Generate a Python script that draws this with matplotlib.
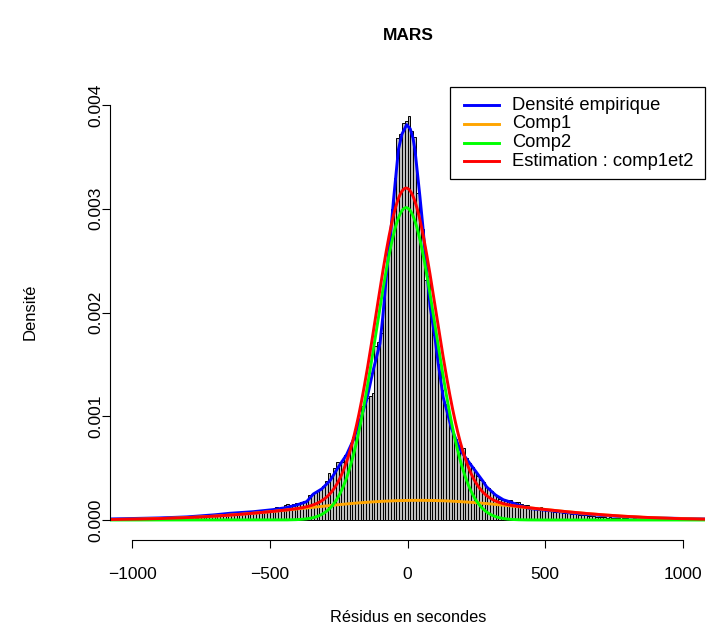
import numpy as np
import matplotlib
matplotlib.use("Agg")
import matplotlib.pyplot as plt
from matplotlib.lines import Line2D
from matplotlib.patches import Rectangle

plt.rcParams['font.family'] = ['Liberation Sans', 'DejaVu Sans']
plt.rcParams['axes.unicode_minus'] = False

# ---------------- data ----------------
title = "MARS"
xlabel = "Résidus en secondes"
ylabel = "Densité"
legend_labels = ["Densité empirique", "Comp1", "Comp2", "Estimation : comp1et2"]
line_colors = ["#0000FF", "#FFA500", "#00FF00", "#FF0000"]
xticks = [-1000, -500, 0, 500, 1000]
xtick_labels = ["\u22121000", "\u2212500", "0", "500", "1000"]
yticks = [0.000, 0.001, 0.002, 0.003, 0.004]
ytick_labels = ["0.000", "0.001", "0.002", "0.003", "0.004"]

# histogram (bin width 10, first edge -1080), densities in units of 1e-5
bin_start = -1080
bin_width = 10
hist_e5 = (
    [0, 0, 1, 0, 0, 1, 0, 0, 1, 1, 0, 1, 0, 1, 1, 0, 1, 1, 2, 1,
     1, 2, 1, 2, 2, 1, 2, 3, 2, 2, 3, 2, 3, 3, 4, 3, 4, 4]                  # -1075..-705
    + [4, 4, 4, 5, 5, 5, 6, 5, 6, 6, 6, 7, 7, 7, 8, 8, 8, 9, 9, 9]           # -695..-505
    + [10, 10, 13, 12, 12, 14, 15, 14, 15, 16, 16, 17, 18, 19, 24, 25, 27, 29, 30, 33]  # -495..-305
    + [38, 45, 42, 50, 56, 55, 56, 63, 66, 74, 80, 92, 95, 110, 112, 118, 120]          # -295..-135
    + [122, 168, 172, 180, 210, 240, 270, 300]                               # -125..-55
    + [330, 368, 372, 383, 385, 389, 375, 369, 315, 300]                     # -45..45
    + [280, 231, 235, 200, 178, 170, 150, 125]                               # 55..125
    + [112, 103, 92, 85, 78, 72, 68, 69, 60, 55, 51, 46, 42, 39, 37, 33, 31] # 135..295
    + [28, 25, 22, 20, 19, 18, 19, 19, 16, 17, 17, 15, 14, 14, 12, 11, 11, 12, 13, 10]  # 305..495
    + [10, 9, 9, 8, 8, 8, 7, 7, 7, 6, 8, 7, 5, 5, 5, 4, 4, 4, 3, 3]          # 505..695
    + [3, 3, 2, 3, 2, 2, 2, 1, 2, 2, 1, 1, 2, 1, 1, 0, 1, 1, 0, 1,
       1, 0, 0, 1, 0, 1, 0, 0, 1, 0, 0, 0, 1, 0, 0, 0, 0, 0]                 # 705..1075
)

emp_x = [-1080, -900, -800, -700, -644, -560, -488, -440, -402, -366, -342, -311,
         -281, -251, -221, -197, -172, -148, -124, -100, -90, -75, -60, -51, -33,
         -20, -3, 10, 20, 27, 45, 55, 70, 82, 100, 112, 130, 160, 191, 203, 239,
         275, 287, 320, 348, 372, 396, 445, 517, 600, 699, 800, 900, 1080]
emp_e5 = [1, 2, 3, 5, 6.5, 8, 10, 12, 14.5, 17.7, 25, 30,
          38, 51, 63, 77, 96, 116, 145, 170, 195, 240, 280, 308, 357,
          372, 381, 377, 368, 357, 312, 285, 240, 206, 175, 150, 118, 88, 68, 63, 50,
          37, 32, 24, 19.5, 17.5, 15, 11, 9, 6.5, 4.5, 3, 2, 1]

# fitted two-component normal mixture
comp_weights = [0.195, 0.815]
comp_means = [40, -5]
comp_sds = [410, 108]

# ---------------- figure ----------------
W, H = 708, 630
fig = plt.figure(figsize=(W / 100, H / 100), dpi=100)

def fx(px):
    return px / W

def fy(py):
    return 1 - py / H

# axes placement in pixels
ax_left, ax_right = 110, 705
ax_top, ax_bottom = 88, 540
y0_px, y4_px = 520, 105
xl, xr = -1080, 1080
scale = (y0_px - y4_px) / 0.004
ylim_lo = -(ax_bottom - y0_px) / scale
ylim_hi = 0.004 + (y4_px - ax_top) / scale

ax = fig.add_axes([fx(ax_left), fy(ax_bottom), fx(ax_right - ax_left), (ax_bottom - ax_top) / H])
ax.set_xlim(xl, xr)
ax.set_ylim(ylim_lo, ylim_hi)

centers = bin_start + bin_width / 2 + bin_width * np.arange(len(hist_e5))
heights = np.array(hist_e5) * 1e-5
ax.bar(centers, heights, width=bin_width, color="#BEBEBE", edgecolor="black", linewidth=0.7)

xs = np.linspace(xl, xr, 1500)
def npdf(x, m, s):
    return np.exp(-0.5 * ((x - m) / s) ** 2) / (s * np.sqrt(2 * np.pi))
c1 = comp_weights[0] * npdf(xs, comp_means[0], comp_sds[0])
c2 = comp_weights[1] * npdf(xs, comp_means[1], comp_sds[1])

lw = 2.1
ax.plot(emp_x, np.array(emp_e5) * 1e-5, color=line_colors[0], lw=lw, solid_joinstyle='round')
ax.plot(xs, c1, color=line_colors[1], lw=lw)
ax.plot(xs, c2, color=line_colors[2], lw=lw)
ax.plot(xs, c1 + c2, color=line_colors[3], lw=lw)

for s in ["top", "right"]:
    ax.spines[s].set_visible(False)
ax.spines["left"].set_bounds(0, 0.004)
ax.spines["bottom"].set_bounds(-1000, 1000)
for s in ["left", "bottom"]:
    ax.spines[s].set_linewidth(0.8)

ax.set_xticks(xticks)
ax.set_xticklabels(xtick_labels)
ax.set_yticks(yticks)
ax.set_yticklabels(ytick_labels, rotation=90, va="center")
ax.tick_params(axis="both", length=5.5, width=0.8, labelsize=12.5, direction="out")
ax.tick_params(axis="x", pad=14)
ax.tick_params(axis="y", pad=-1)

fig.text(fx(408), fy(35), title, ha="center", va="center", fontsize=12.5, fontweight="bold")
fig.text(fx(408), fy(618), xlabel, ha="center", va="center", fontsize=11.8)
fig.text(fx(30), fy(312), ylabel, ha="center", va="center", rotation=90, fontsize=12)

# legend drawn by hand (box, line keys, labels) in pixel positions
box_l, box_r, box_t, box_b = 450, 705, 87, 179
row_y = [105, 124, 142.5, 161]
key_x0, key_x1, text_x = 464, 499, 512
fig.add_artist(Rectangle((fx(box_l), fy(box_b)), fx(box_r - box_l), (box_b - box_t) / H,
                         transform=fig.transFigure, facecolor="white",
                         edgecolor="black", linewidth=0.9, zorder=5))
for lab, col, ry in zip(legend_labels, line_colors, row_y):
    fig.add_artist(Line2D([fx(key_x0), fx(key_x1)], [fy(ry), fy(ry)],
                          transform=fig.transFigure, color=col, lw=lw, zorder=6))
    fig.text(fx(text_x), fy(ry), lab, ha="left", va="center", fontsize=13.2, zorder=6)

fig.savefig("out.png", dpi=100)
